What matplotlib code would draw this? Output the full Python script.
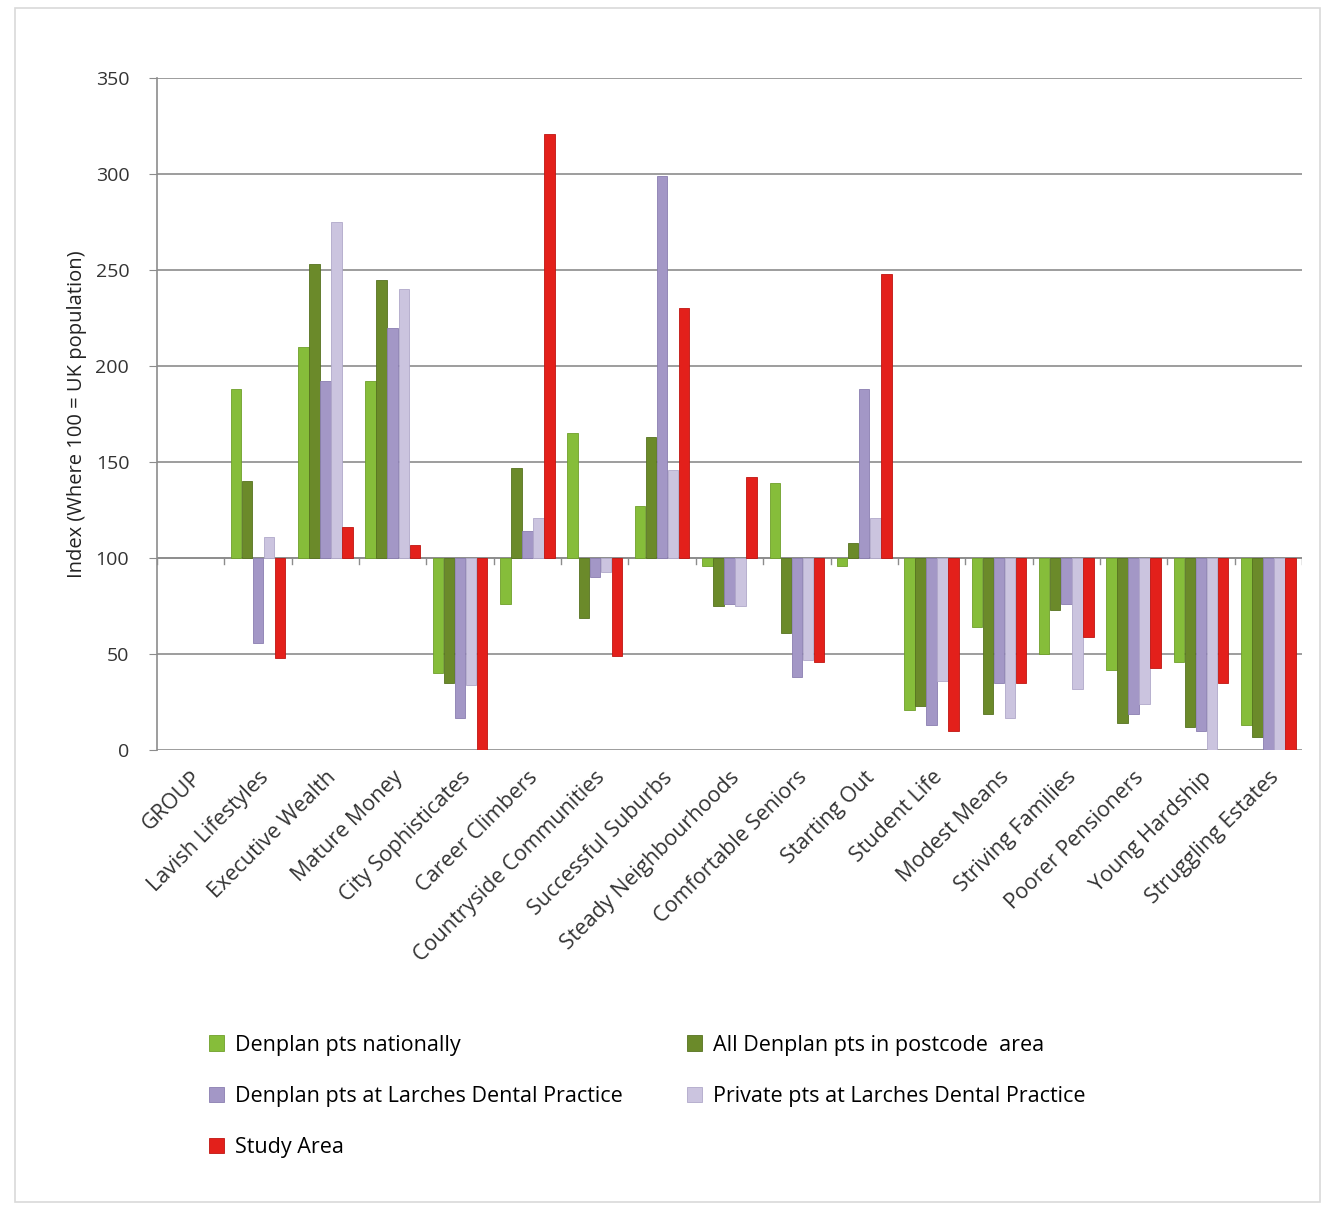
import numpy as np
import matplotlib
matplotlib.use("Agg")
import matplotlib.pyplot as plt
from matplotlib.patches import Rectangle

plt.rcParams['font.family'] = ['Open Sans', 'DejaVu Sans']

# categories (first one is an empty "GROUP" slot)
categories = ["GROUP", "Lavish Lifestyles", "Executive Wealth", "Mature Money",
              "City Sophisticates", "Career Climbers", "Countryside Communities",
              "Successful Suburbs", "Steady Neighbourhoods", "Comfortable Seniors",
              "Starting Out", "Student Life", "Modest Means", "Striving Families",
              "Poorer Pensioners", "Young Hardship", "Struggling Estates"]

series_names = ["Denplan pts nationally", "All Denplan pts in postcode  area",
                "Denplan pts at Larches Dental Practice", "Private pts at Larches Dental Practice",
                "Study Area"]

nan = np.nan
denplan_national = [nan, 188, 210, 192, 40, 76, 165, 127, 96, 139, 96, 21, 64, 50, 42, 46, 13]
denplan_postcode = [nan, 140, 253, 245, 35, 147, 69, 163, 75, 61, 108, 23, 19, 73, 14, 12, 7]
larches_denplan = [nan, 56, 192, 220, 17, 114, 90, 299, 76, 38, 188, 13, 35, 76, 19, 10, 0]
larches_private = [nan, 111, 275, 240, 34, 121, 93, 146, 75, 47, 121, 36, 17, 32, 24, 0, 0]
study_area = [nan, 48, 116, 107, 0, 321, 49, 230, 142, 46, 248, 10, 35, 59, 43, 35, 0]

colors = ["#86BD3A", "#6B8A2A", "#A397C6", "#CBC4DF", "#E3201B"]
edges = ["#6FA02A", "#56721F", "#8A7EB0", "#B0A8CA", "#C01510"]

fig = plt.figure(figsize=(13.35, 12.10), dpi=100)
fig.patches.append(Rectangle((0.011, 0.007), 0.978, 0.986, transform=fig.transFigure,
                             fill=False, edgecolor="#D9D9D9", linewidth=1.2))
ax = fig.add_axes([0.1176, 0.38, 0.8577, 0.5555])

x = np.arange(len(categories))
all_series = [denplan_national, denplan_postcode, larches_denplan, larches_private, study_area]
n = len(all_series)
width = 0.82 / n
for i, vals in enumerate(all_series):
    v = np.array(vals, dtype=float)
    ax.bar(x - 0.41 + width * (i + 0.5), v - 100, width=width * 0.95, bottom=100,
           color=colors[i], edgecolor=edges[i], linewidth=0.6, label=series_names[i], zorder=3)

ax.set_xlim(-0.5, len(categories) - 0.5)
ax.set_ylim(0, 350)
ax.set_yticks(np.arange(0, 351, 50))
ax.yaxis.grid(True, color="#8C8C8C", linewidth=1.2, zorder=0)
ax.set_axisbelow(True)

for s in ["top", "right", "bottom"]:
    ax.spines[s].set_visible(False)
ax.spines["left"].set_color("#8C8C8C")
ax.spines["left"].set_linewidth(1.2)
ax.tick_params(axis="y", length=6, color="#8C8C8C", labelsize=14, labelcolor="#333333", pad=14)

# category axis crossing at 100
ax.axhline(100, color="#8C8C8C", linewidth=1.2, zorder=2)
for b in np.arange(-0.5, len(categories), 1.0):
    ax.plot([b, b], [100, 97], color="#8C8C8C", linewidth=1, zorder=2)
ax.set_xticks(x)
ax.set_xticklabels(categories, rotation=45, ha="right", rotation_mode="anchor",
                   fontsize=15.5, color="#333333")
ax.tick_params(axis="x", length=0, pad=12)

ax.set_ylabel("Index (Where 100 = UK population)", fontsize=14.5, color="#222222", labelpad=6)

handles, labels = ax.get_legend_handles_labels()
order = [0, 2, 4, 1, 3]
fig.legend([handles[i] for i in order], [labels[i] for i in order],
           loc="upper left", bbox_to_anchor=(0.142, 0.161), ncol=2,
           frameon=False, fontsize=15.5, handlelength=0.7, handleheight=0.7,
           columnspacing=3.0, labelspacing=1.4, handletextpad=0.5)

plt.savefig("out.png", dpi=100)
